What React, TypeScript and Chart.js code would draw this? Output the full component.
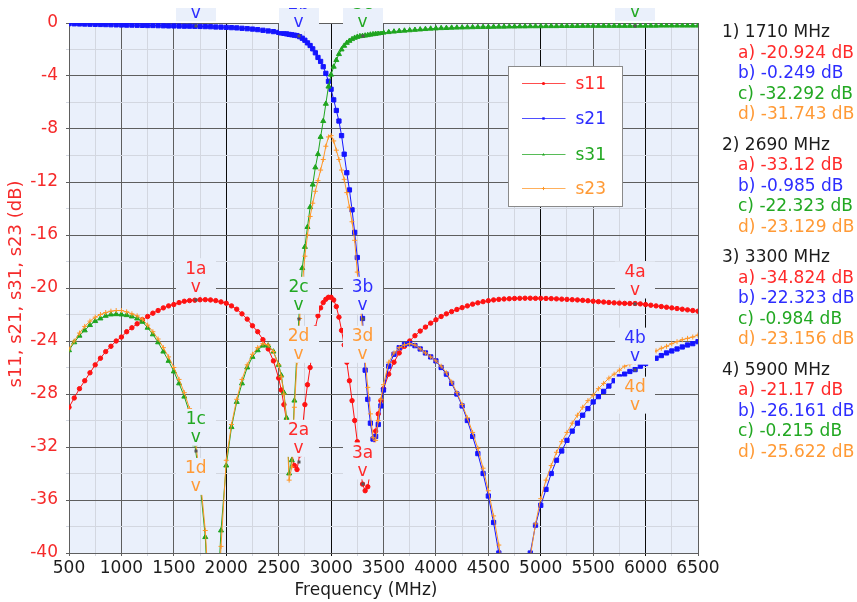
import { useEffect, useRef } from "react";
import { Chart, registerables } from "chart.js";

Chart.register(...registerables);

const FONT = '"DejaVu Sans", "Liberation Sans", sans-serif';
const PLOT_BG = "#eaf0fb";

// Frequency grid (MHz)
const freqs = [
  500, 550, 600, 650, 700, 750, 800, 850, 900, 950, 1000, 1050, 1100, 1150, 1200, 1250, 1300, 1350, 1400, 1450,
  1500, 1550, 1600, 1650, 1700, 1750, 1800, 1850, 1900, 1950, 2000, 2050, 2100, 2150, 2200, 2250, 2300, 2350,
  2400, 2450, 2500,
  2525, 2550, 2575, 2600, 2625, 2650, 2675, 2700, 2725, 2750, 2775, 2800, 2825, 2850, 2875, 2900, 2925, 2950,
  2975, 3000, 3025, 3050, 3075, 3100, 3125, 3150, 3175, 3200, 3225, 3250, 3275, 3300, 3325, 3350, 3375, 3400,
  3425, 3450, 3475, 3500,
  3550, 3600, 3650, 3700, 3750, 3800, 3850, 3900, 3950, 4000, 4050, 4100, 4150, 4200, 4250, 4300, 4350, 4400,
  4450, 4500, 4550, 4600, 4650, 4700, 4750, 4800, 4850, 4900, 4950, 5000, 5050, 5100, 5150, 5200, 5250, 5300,
  5350, 5400, 5450, 5500, 5550, 5600, 5650, 5700, 5750, 5800, 5850, 5900, 5950, 6000, 6050, 6100, 6150, 6200,
  6250, 6300, 6350, 6400, 6450, 6500,
];

const s11 = [
  -29.0, -28.3, -27.6, -27.0, -26.4, -25.8, -25.3, -24.8, -24.4, -24.0, -23.7, -23.3, -23.0, -22.7, -22.4, -22.15,
  -21.9, -21.7, -21.5, -21.35, -21.25, -21.1, -21.0, -20.95, -20.92, -20.89, -20.88, -20.9, -20.95, -21.05, -21.15,
  -21.35, -21.6, -21.95, -22.35, -22.85, -23.3, -23.9, -24.6, -25.5, -26.8,
  -27.7, -28.8, -30.0, -31.3, -32.5, -33.4, -33.7, -32.6, -30.8, -28.8, -27.3, -26.0, -24.4, -23.0, -22.1, -21.5,
  -21.1, -20.85, -20.7, -20.7, -20.9, -21.4, -22.2, -23.2, -24.3, -25.6, -27.0, -28.5, -30.0, -31.6, -33.3, -34.8,
  -35.3, -35.0, -33.8, -32.2, -30.8, -29.5, -28.5, -27.6,
  -26.5, -25.6, -24.9, -24.4, -24.0, -23.6, -23.25, -22.95, -22.65, -22.4, -22.15, -21.95, -21.78, -21.62, -21.48,
  -21.35, -21.22, -21.12, -21.03, -20.96, -20.9, -20.86, -20.83, -20.81, -20.79, -20.78, -20.77, -20.77, -20.78,
  -20.78, -20.79, -20.8, -20.82, -20.84, -20.86, -20.88, -20.9, -20.93, -20.96, -21.0, -21.03, -21.06, -21.09,
  -21.12, -21.14, -21.16, -21.17, -21.17, -21.2, -21.25, -21.3, -21.35, -21.4, -21.45, -21.5, -21.55, -21.6,
  -21.65, -21.7, -21.75,
];

const s21 = [
  -0.05, -0.06, -0.07, -0.08, -0.09, -0.1, -0.11, -0.12, -0.13, -0.14, -0.15, -0.16, -0.16, -0.17, -0.18, -0.19,
  -0.19, -0.2, -0.21, -0.22, -0.22, -0.23, -0.24, -0.24, -0.25, -0.26, -0.27, -0.28, -0.3, -0.31, -0.33, -0.35,
  -0.37, -0.4, -0.43, -0.46, -0.5, -0.55, -0.6, -0.65, -0.71,
  -0.75, -0.78, -0.82, -0.86, -0.89, -0.92, -0.95, -1.03, -1.15, -1.3, -1.5, -1.7, -1.95, -2.25, -2.6, -2.9, -3.3,
  -3.8, -4.4, -5.0, -5.8, -6.6, -7.4, -8.5, -9.9, -11.3, -12.6, -14.1, -15.8, -17.7, -19.7, -22.3, -26.2, -28.4,
  -30.2, -31.4, -31.2, -30.3, -28.9, -27.7,
  -25.9, -25.0, -24.5, -24.25, -24.2, -24.35, -24.6, -24.9, -25.2, -25.5, -26.0, -26.5, -27.2, -28.0, -28.9, -30.0,
  -31.2, -32.5, -34.0, -35.7, -37.7, -40.0, -43.5, -48.0, -56.0, -50.0, -44.0, -40.0, -37.9, -36.4, -35.2, -34.0,
  -33.0, -32.3, -31.5, -30.8, -30.2, -29.6, -29.1, -28.6, -28.2, -27.8, -27.4, -27.0, -26.7, -26.5, -26.3, -26.16,
  -25.9, -25.7, -25.5, -25.3, -25.1, -24.9, -24.75, -24.6, -24.45, -24.3, -24.2, -24.05,
];

const s31 = [
  -24.7, -24.1, -23.6, -23.2, -22.8, -22.5, -22.3, -22.1, -22.0, -21.98, -22.0, -22.05, -22.15, -22.3, -22.55, -23.0,
  -23.5, -24.1, -24.8, -25.5, -26.3, -27.2, -28.2, -29.4, -31.8, -34.7, -38.8, -47.0, -46.0, -38.3, -33.4, -30.5,
  -28.6, -27.2, -26.0, -25.2, -24.7, -24.35, -24.35, -24.8, -25.8,
  -26.6, -27.9, -29.8, -34.0, -33.0, -28.5, -24.8, -21.2, -18.5, -16.9, -15.4, -13.9, -12.2, -10.9, -9.9, -8.6,
  -7.4, -6.1, -4.8, -3.9, -3.3, -2.8, -2.35, -2.0, -1.72, -1.5, -1.35, -1.22, -1.12, -1.05, -1.0, -0.98, -0.95,
  -0.92, -0.88, -0.85, -0.82, -0.79, -0.76, -0.73,
  -0.69, -0.65, -0.61, -0.58, -0.55, -0.52, -0.49, -0.46, -0.43, -0.41, -0.39, -0.38, -0.36, -0.35, -0.34, -0.33,
  -0.32, -0.31, -0.3, -0.3, -0.29, -0.28, -0.28, -0.27, -0.27, -0.26, -0.26, -0.25, -0.25, -0.25, -0.24, -0.24,
  -0.24, -0.23, -0.23, -0.23, -0.23, -0.22, -0.22, -0.22, -0.22, -0.22, -0.22, -0.22, -0.22, -0.22, -0.22, -0.215,
  -0.21, -0.21, -0.21, -0.21, -0.2, -0.2, -0.2, -0.2, -0.2, -0.2, -0.2, -0.2,
];

const s23 = [
  -24.6, -24.0, -23.4, -22.9, -22.5, -22.2, -22.0, -21.85, -21.75, -21.7, -21.7, -21.8, -21.95, -22.1, -22.35, -22.8,
  -23.3, -23.85, -24.5, -25.2, -26.0, -26.9, -27.9, -29.1, -31.3, -34.2, -38.3, -45.0, -48.0, -39.5, -33.0, -30.3,
  -28.4, -26.9, -25.8, -25.0, -24.5, -24.2, -24.3, -24.8, -25.8,
  -26.7, -28.0, -30.0, -34.5, -33.5, -29.0, -25.6, -22.3, -19.8, -17.6, -16.0, -14.6, -13.6, -12.7, -11.9, -11.1,
  -10.3, -9.3, -8.6, -8.5, -8.9, -9.6, -10.3, -11.1, -11.8, -12.8, -13.9, -15.0, -16.4, -18.8, -20.9, -23.16, -25.5,
  -27.5, -29.5, -31.3, -31.5, -30.0, -28.4, -27.3,
  -25.6, -24.9, -24.5, -24.3, -24.2, -24.3, -24.6, -24.9, -25.2, -25.5, -25.9, -26.4, -27.1, -27.9, -28.8, -29.8,
  -30.9, -32.1, -33.6, -35.3, -37.2, -39.4, -42.0, -47.0, -55.0, -50.0, -44.0, -40.3, -37.8, -35.9, -34.5, -33.4,
  -32.4, -31.6, -30.9, -30.2, -29.6, -29.0, -28.5, -28.1, -27.6, -27.2, -26.8, -26.5, -26.2, -25.9, -25.75, -25.62,
  -25.4, -25.2, -24.95, -24.75, -24.55, -24.4, -24.2, -24.05, -23.9, -23.8, -23.7, -23.55,
];

// Markers
const markerFreqs = [1710, 2690, 3300, 5900];
const markerS11 = [-20.924, -33.12, -34.824, -21.17];
const markerS21 = [-0.249, -0.985, -22.323, -26.161];
const markerS31 = [-32.292, -22.323, -0.984, -0.215];
const markerS23 = [-31.743, -23.129, -23.156, -25.622];

const seriesNames = ["s11", "s21", "s31", "s23"];
const seriesColors = ["#ff1212", "#1414ff", "#1fa51f", "#ff9626"];
const textColors = ["#ff2a2a", "#2d2dff", "#22a822", "#ff9a36"];
const pointStyles = ["circle", "rect", "triangle", "cross"];
const pointRadii = [2.2, 3.0, 2.9, 2.5];
const markerLetters = ["a", "b", "c", "d"];

const xTitle = "Frequency (MHz)";
const yTitle = "s11, s21, s31, s23 (dB)";

const BLACK_X_LINES = [2000, 3000, 5000, 6000];

function drawPointShape(ctx: CanvasRenderingContext2D, style: string, x: number, y: number, r: number, color: string) {
  ctx.save();
  ctx.fillStyle = color;
  ctx.strokeStyle = color;
  ctx.lineWidth = 1;
  ctx.beginPath();
  if (style === "circle") {
    ctx.arc(x, y, r, 0, Math.PI * 2);
    ctx.fill();
  } else if (style === "rect") {
    const s = r * 0.75;
    ctx.rect(x - s, y - s, 2 * s, 2 * s);
    ctx.fill();
  } else if (style === "triangle") {
    ctx.moveTo(x, y - r);
    ctx.lineTo(x + r * 0.9, y + r * 0.6);
    ctx.lineTo(x - r * 0.9, y + r * 0.6);
    ctx.closePath();
    ctx.fill();
  } else {
    ctx.moveTo(x - r, y);
    ctx.lineTo(x + r, y);
    ctx.moveTo(x, y - r);
    ctx.lineTo(x, y + r);
    ctx.stroke();
  }
  ctx.restore();
}

const decorPlugin = {
  id: "decor",
  beforeDraw(chart: any) {
    const { ctx, chartArea: a } = chart;
    ctx.save();
    ctx.fillStyle = PLOT_BG;
    ctx.fillRect(a.left, a.top, a.right - a.left, a.bottom - a.top);
    ctx.restore();
  },
  afterDatasetsDraw(chart: any) {
    const { ctx, chartArea: a } = chart;
    const xs = chart.scales.x;
    const ys = chart.scales.y;
    const groups = [markerS11, markerS21, markerS31, markerS23];
    const labels: { x: number; y: number; top: number; text: string; color: string }[] = [];
    const BOX_H = 37;
    for (let i = 0; i < markerFreqs.length; i++) {
      const x = xs.getPixelForValue(markerFreqs[i]);
      const placed: { top: number; bottom: number }[] = [];
      for (let j = 0; j < groups.length; j++) {
        const y = ys.getPixelForValue(groups[j][i]);
        let top = y - 42;
        let moved = true;
        while (moved) {
          moved = false;
          for (const p of placed) {
            if (top < p.bottom && top + BOX_H > p.top) {
              top = p.bottom + 12;
              moved = true;
            }
          }
        }
        placed.push({ top, bottom: top + BOX_H });
        labels.push({ x, y, top, text: `${i + 1}${markerLetters[j]}`, color: textColors[j] });
      }
    }
    ctx.save();
    ctx.beginPath();
    ctx.rect(0, 8, chart.width, chart.height - 8);
    ctx.clip();
    // marker dots
    for (const l of labels) {
      if (l.y >= a.top - 2 && l.y <= a.bottom) {
        ctx.fillStyle = "#555";
        ctx.fillRect(Math.round(l.x) - 1.5, Math.round(l.y) - 1.5, 3, 3);
      }
    }
    // boxes
    ctx.fillStyle = PLOT_BG;
    for (const l of labels) {
      ctx.fillRect(Math.round(l.x) - 20, l.top, 40, BOX_H);
    }
    // text
    ctx.font = `17px ${FONT}`;
    ctx.textAlign = "center";
    ctx.textBaseline = "middle";
    for (const l of labels) {
      ctx.fillStyle = l.color;
      ctx.fillText(l.text, l.x, l.top + 11);
      ctx.fillText("v", l.x, l.top + 29);
    }
    ctx.restore();
  },
  afterDraw(chart: any) {
    const { ctx, chartArea: a } = chart;
    ctx.save();
    // legend
    const lx = a.left + 439.5;
    const ly = a.top + 43.5;
    ctx.fillStyle = "#ffffff";
    ctx.fillRect(lx, ly, 114, 140);
    ctx.strokeStyle = "#8a8a8a";
    ctx.lineWidth = 1;
    ctx.strokeRect(lx, ly, 114, 140);
    const entryY = [17, 52, 88, 122];
    ctx.font = `17px ${FONT}`;
    ctx.textAlign = "left";
    ctx.textBaseline = "middle";
    for (let j = 0; j < seriesNames.length; j++) {
      const yy = ly + entryY[j];
      ctx.globalAlpha = 0.75;
      ctx.strokeStyle = seriesColors[j];
      ctx.beginPath();
      ctx.moveTo(lx + 13.5, yy);
      ctx.lineTo(lx + 57, yy);
      ctx.stroke();
      ctx.globalAlpha = 1;
      drawPointShape(ctx, pointStyles[j], lx + 35, yy, 1.6, seriesColors[j]);
      ctx.fillStyle = textColors[j];
      ctx.fillText(seriesNames[j], lx + 67, yy + 1);
    }

    // marker read-out panel
    const groups = [markerS11, markerS21, markerS31, markerS23];
    const hx = a.right + 24;
    const sx = a.right + 40;
    for (let i = 0; i < markerFreqs.length; i++) {
      const gy = 33 + i * 112.4;
      ctx.fillStyle = "#1c1c1c";
      ctx.fillText(`${i + 1}) ${markerFreqs[i]} MHz`, hx, gy);
      for (let j = 0; j < groups.length; j++) {
        ctx.fillStyle = textColors[j];
        ctx.fillText(`${markerLetters[j]}) ${groups[j][i]} dB`, sx, gy + 20.5 * (j + 1));
      }
    }

    // axis titles
    ctx.fillStyle = "#1c1c1c";
    ctx.textAlign = "center";
    ctx.fillText(xTitle, a.left + 297, 591);
    ctx.save();
    ctx.translate(16, 284);
    ctx.rotate(-Math.PI / 2);
    ctx.font = `18px ${FONT}`;
    ctx.fillStyle = "#f52a2a";
    ctx.fillText(yTitle, 0, 0);
    ctx.restore();
    ctx.restore();
  },
};

export default function App() {
  const ref = useRef<HTMLCanvasElement | null>(null);
  useEffect(() => {
    document.body.style.margin = "0";
    const canvas = ref.current;
    if (!canvas) return;
    const series = [s11, s21, s31, s23];
    const datasets = series.map((vals, j) => ({
      label: seriesNames[j],
      data: freqs.map((f, k) => ({ x: f, y: vals[k] })),
      borderColor: seriesColors[j],
      backgroundColor: seriesColors[j],
      pointBackgroundColor: seriesColors[j],
      pointBorderColor: seriesColors[j],
      pointStyle: pointStyles[j] as any,
      pointRadius: pointRadii[j],
      pointBorderWidth: 1,
      borderWidth: 1,
      tension: 0,
      fill: false,
      order: 4 - j,
    }));
    const chart = new Chart(canvas, {
      type: "line",
      data: { datasets },
      plugins: [decorPlugin],
      options: {
        animation: false,
        responsive: false,
        maintainAspectRatio: false,
        events: [],
        layout: { padding: { top: 23, right: 159, left: 0, bottom: 0 } },
        plugins: {
          legend: { display: false },
          tooltip: { enabled: false },
          title: { display: false },
        },
        scales: {
          x: {
            type: "linear",
            min: 500,
            max: 6500,
            afterFit: (s: any) => {
              s.height = 49;
            },
            ticks: {
              stepSize: 250,
              autoSkip: false,
              maxRotation: 0,
              minRotation: 0,
              padding: 2,
              color: "#1c1c1c",
              font: { family: FONT, size: 17 },
              callback: (v: any) => (Number(v) % 500 === 0 ? String(v) : ""),
            },
            grid: {
              tickLength: 3,
              color: (c: any) => {
                const v = c.tick?.value;
                if (v === undefined) return "#606060";
                if (v % 500 !== 0) return "#d3d7e0";
                if (BLACK_X_LINES.includes(v)) return "#0a0a0a";
                return "#5e5e5e";
              },
            },
            border: { color: "#5e5e5e" },
          },
          y: {
            type: "linear",
            min: -40,
            max: 0,
            afterFit: (s: any) => {
              s.width = 69;
            },
            ticks: {
              stepSize: 2,
              autoSkip: false,
              padding: 8,
              color: "#f52a2a",
              font: { family: FONT, size: 17 },
              callback: (v: any) => (Number(v) % 4 === 0 ? String(v) : ""),
            },
            grid: {
              tickLength: 3,
              color: (c: any) => {
                const v = c.tick?.value;
                if (v === undefined) return "#606060";
                if (Math.abs(v % 4) !== 0) return "#d3d7e0";
                return "#5e5e5e";
              },
            },
            border: { color: "#5e5e5e" },
          },
        },
      } as any,
    });
    return () => chart.destroy();
  }, []);
  return (
    <div style={{ position: "relative", width: 857, height: 602 }}>
      <canvas ref={ref} width={857} height={602} style={{ display: "block", width: 857, height: 602 }} />
    </div>
  );
}
